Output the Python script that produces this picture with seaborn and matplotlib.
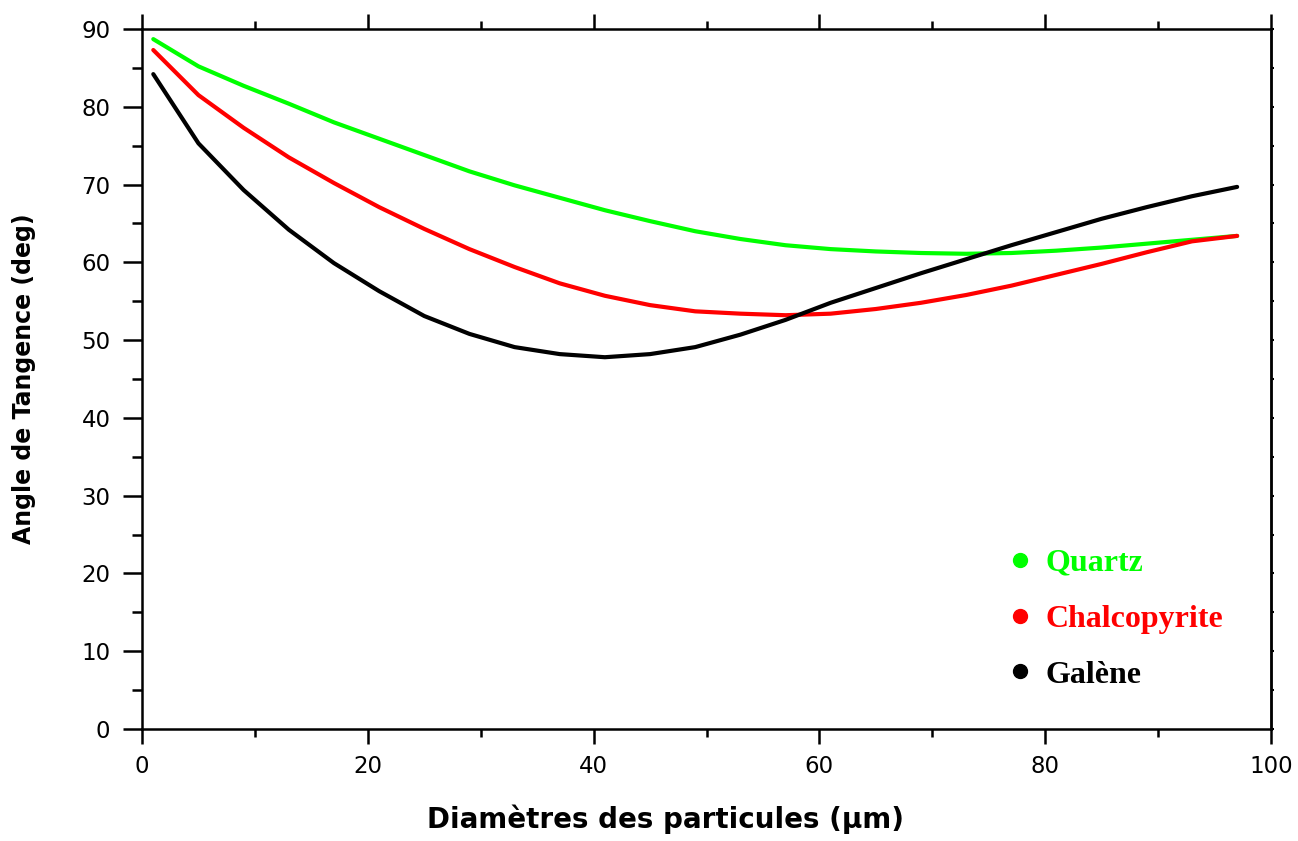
import numpy as np
import pandas as pd
import matplotlib
matplotlib.use("Agg")
import matplotlib.pyplot as plt
import seaborn as sns
from matplotlib.lines import Line2D
from matplotlib.ticker import MultipleLocator

diametre = [1, 5, 9, 13, 17, 21, 25, 29, 33, 37, 41, 45, 49, 53, 57, 61, 65, 69, 73, 77, 81, 85, 89, 93, 97]
quartz = [88.7, 85.2, 82.7, 80.4, 78.0, 75.9, 73.8, 71.7, 69.9, 68.3, 66.7, 65.3, 64.0, 63.0, 62.2, 61.7,
          61.4, 61.2, 61.1, 61.2, 61.5, 61.9, 62.4, 62.9, 63.4]
chalcopyrite = [87.3, 81.5, 77.3, 73.5, 70.2, 67.1, 64.3, 61.7, 59.4, 57.3, 55.7, 54.5, 53.7, 53.4, 53.2, 53.4,
                54.0, 54.8, 55.8, 57.0, 58.4, 59.8, 61.3, 62.7, 63.4]
galene = [84.2, 75.3, 69.3, 64.2, 59.9, 56.3, 53.1, 50.8, 49.1, 48.2, 47.8, 48.2, 49.1, 50.7, 52.6, 54.8,
          56.7, 58.6, 60.4, 62.2, 63.9, 65.6, 67.1, 68.5, 69.7]
series_names = ["Quartz", "Chalcopyrite", "Galène"]
colors = ["#00ff00", "#ff0000", "#000000"]
x_label = "Diamètres des particules (µm)"
y_label = "Angle de Tangence (deg)"

df = pd.concat([
    pd.DataFrame({"d": diametre, "angle": vals, "mineral": name})
    for name, vals in zip(series_names, [quartz, chalcopyrite, galene])
])

sns.set_theme(style="ticks")
plt.rcParams["font.family"] = ["DejaVu Sans"]
plt.rcParams["text.color"] = "black"
plt.rcParams["axes.labelcolor"] = "black"
plt.rcParams["xtick.color"] = "black"
plt.rcParams["ytick.color"] = "black"

fig = plt.figure(figsize=(12.98, 8.41), dpi=100)
ax = fig.add_axes([0.1094, 0.1332, 0.8698, 0.8323])

sns.lineplot(data=df, x="d", y="angle", hue="mineral", palette=dict(zip(series_names, colors)),
             linewidth=3, ax=ax, legend=False, sort=False)

ax.set_xlim(0, 100)
ax.set_ylim(0, 90)
ax.xaxis.set_major_locator(MultipleLocator(20))
ax.xaxis.set_minor_locator(MultipleLocator(10))
ax.yaxis.set_major_locator(MultipleLocator(10))
ax.yaxis.set_minor_locator(MultipleLocator(5))
ax.tick_params(axis="x", which="both", direction="out", top=True, bottom=True, width=1.8,
               labelsize=16.5)
ax.tick_params(axis="x", which="major", length=10.8, pad=8)
ax.tick_params(axis="x", which="minor", length=5.8)
ax.tick_params(axis="y", which="both", direction="out", left=True, right=False, width=1.8,
               labelsize=16.5)
ax.tick_params(axis="y", which="major", length=13.7, pad=9)
ax.tick_params(axis="y", which="minor", length=7.2)
for s in ax.spines.values():
    s.set_linewidth(1.8)
    s.set_color("black")

sec = ax.secondary_yaxis("right")
sec.yaxis.set_major_locator(MultipleLocator(10))
sec.yaxis.set_minor_locator(MultipleLocator(5))
sec.tick_params(which="both", direction="out", length=2.5, width=1.5, labelright=False)
sec.spines["right"].set_linewidth(1.8)

ax.set_xlabel(x_label, fontsize=20, fontweight="bold", labelpad=19)
ax.xaxis.label.set_x(0.464)
ax.set_ylabel(y_label, fontsize=17, fontweight="bold", labelpad=33)

handles = [Line2D([0], [0], marker="o", linestyle="none", color=c, markersize=10) for c in colors]
leg = ax.legend(handles, series_names, loc="center left", bbox_to_anchor=(0.769, 0.157),
                frameon=False, handlelength=0.6, handletextpad=0.52, labelspacing=0.83,
                borderpad=0, borderaxespad=0,
                prop={"family": ["Liberation Serif"], "weight": "bold", "size": 23})
for t, c in zip(leg.get_texts(), colors):
    t.set_color(c)

fig.savefig("out.png", dpi=100)
